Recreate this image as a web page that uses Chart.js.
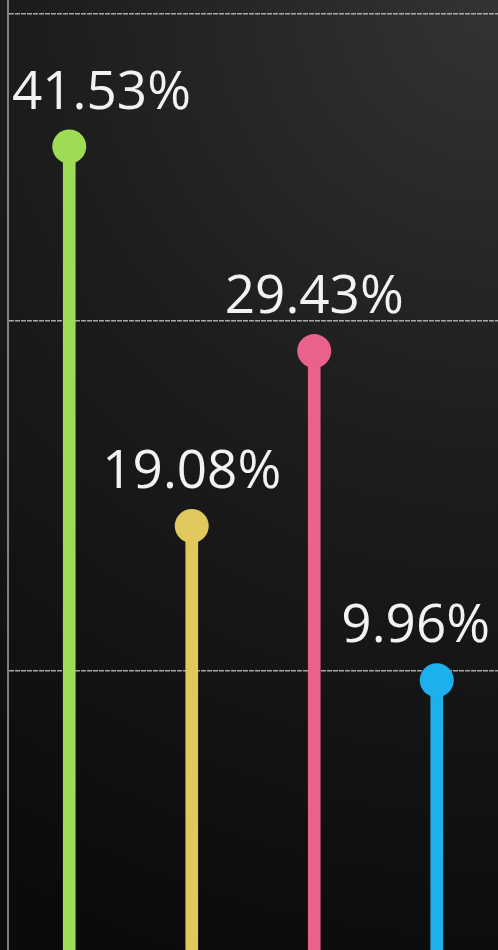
<!DOCTYPE html>
<html>
<head>
<meta charset="utf-8">
<script src="https://cdn.jsdelivr.net/npm/chart.js@4/dist/chart.umd.min.js"></script>
<style>
  html, body { margin: 0; padding: 0; background: #111; }
  #wrap { width: 498px; height: 950px; position: relative; }
</style>
</head>
<body>
<div id="wrap"><canvas id="lollipop"></canvas></div>
<script>
// Data
const categories = ['A', 'B', 'C', 'D'];
const shares = [41.53, 19.08, 29.43, 9.96];
const colors = ['#9fdc55', '#e0c85c', '#e9628b', '#1eb0ec'];
const gridValues = [10.5, 31.2, 49.4];

// dark photo-like backdrop, lighter towards the top right
const backdrop = {
  id: 'backdrop',
  beforeDraw(chart) {
    const { ctx, width, height } = chart;
    const g = ctx.createRadialGradient(width, 0, 0, width, 0, height * 1.05);
    g.addColorStop(0, '#333333');
    g.addColorStop(0.45, '#1d1d1d');
    g.addColorStop(1, '#0b0b0b');
    ctx.save();
    ctx.fillStyle = g;
    ctx.fillRect(0, 0, width, height);
    ctx.restore();
  }
};

// percentage labels above each dot
const valueLabels = {
  id: 'valueLabels',
  afterDatasetsDraw(chart) {
    const { ctx, width } = chart;
    const meta = chart.getDatasetMeta(0);
    ctx.save();
    ctx.font = '53px "Open Sans", sans-serif';
    ctx.fillStyle = '#f2f2f2';
    ctx.textBaseline = 'alphabetic';
    meta.data.forEach((pt, i) => {
      const txt = shares[i].toFixed(2) + '%';
      const w = ctx.measureText(txt).width;
      let left = pt.x - w / 2;
      left = Math.max(12, Math.min(left, width - 8 - w));
      ctx.fillText(txt, left, pt.y - 38);
    });
    ctx.restore();
  }
};

new Chart(document.getElementById('lollipop'), {
  data: {
    labels: categories,
    datasets: [
      {
        type: 'line',
        data: shares,
        showLine: false,
        pointRadius: 17,
        pointHoverRadius: 17,
        pointBackgroundColor: colors,
        pointBorderWidth: 0,
        clip: false,
        order: 0
      },
      {
        type: 'bar',
        data: shares,
        base: -10,
        backgroundColor: colors,
        barThickness: 12,
        order: 1
      }
    ]
  },
  options: {
    responsive: true,
    maintainAspectRatio: false,
    animation: false,
    layout: { autoPadding: false, padding: { left: 8, right: 0, top: 0, bottom: 0 } },
    plugins: {
      legend: { display: false },
      tooltip: { enabled: false }
    },
    scales: {
      x: {
        display: false
      },
      y: {
        min: -6,
        max: 50.2,
        afterBuildTicks: (scale) => {
          scale.ticks = gridValues.map(v => ({ value: v }));
        },
        afterFit: (scale) => { scale.width = 0; },
        ticks: { display: false },
        grid: {
          drawTicks: false,
          color: 'rgba(215,215,215,0.75)',
          lineWidth: 1.5
        },
        border: {
          display: true,
          color: 'rgba(200,200,200,0.6)',
          width: 2,
          dash: [5, 1]
        }
      }
    }
  },
  plugins: [backdrop, valueLabels]
});
</script>
</body>
</html>
